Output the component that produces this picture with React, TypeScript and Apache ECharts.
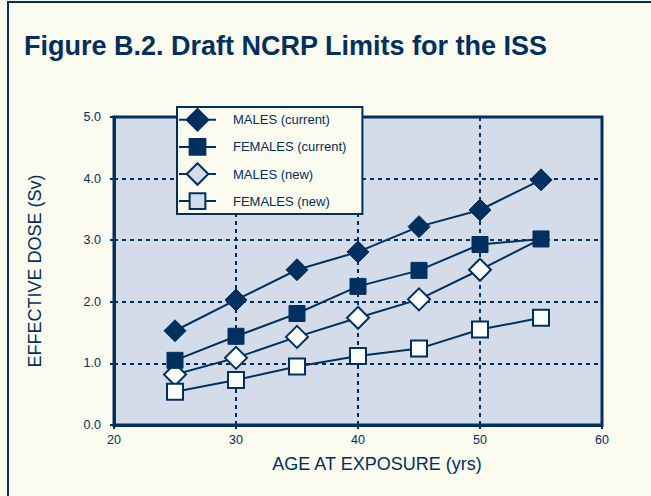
import React, { useEffect, useRef } from "react";
import * as echarts from "echarts";

const ages = [25, 30, 35, 40, 45, 50, 55];
const malesCurrent = [1.53, 2.03, 2.52, 2.81, 3.22, 3.49, 3.98];
const femalesCurrent = [1.05, 1.44, 1.81, 2.25, 2.51, 2.93, 3.02];
const malesNew = [0.82, 1.09, 1.43, 1.74, 2.04, 2.52, 3.02];
const femalesNew = [0.54, 0.73, 0.95, 1.12, 1.24, 1.55, 1.74];
const seriesNames = ["MALES (current)", "FEMALES (current)", "MALES (new)", "FEMALES (new)"];

const NAVY = "#00305f";
const PLOT_BG = "#d5dce9";
const PAGE_BG = "#fbfbf0";
const FONT = "'Liberation Sans', Arial, Helvetica, sans-serif";
const SQUARE = "path://M0,0M22,22M3,3L19,3L19,19L3,19Z";

function pairs(vals: number[], hideLast = false) {
  return ages.map((a, i) =>
    hideLast && i === ages.length - 1
      ? { value: [a, vals[i]], symbol: "none" }
      : { value: [a, vals[i]] }
  );
}

export default function App() {
  const ref = useRef<HTMLDivElement>(null);
  useEffect(() => {
    if (!ref.current) return;
    const chart = echarts.init(ref.current, null, { renderer: "svg" });
    const mk = (name: string, vals: number[], symbol: string, filled: boolean, hideLast = false) => ({
      name,
      type: "line",
      data: pairs(vals, hideLast),
      symbol,
      symbolSize: 22,
      showSymbol: true,
      lineStyle: { color: NAVY, width: 2 },
      itemStyle: {
        color: filled ? NAVY : "#ffffff",
        borderColor: NAVY,
        borderWidth: filled ? 1 : 2,
      },
      emphasis: { disabled: true },
    });
    chart.setOption({
      animation: false,
      backgroundColor: "transparent",
      textStyle: { fontFamily: FONT },
      title: {
        text: "Figure B.2. Draft NCRP Limits for the ISS",
        left: 24,
        top: 32,
        padding: 0,
        textStyle: { fontFamily: FONT, fontSize: 27, fontWeight: "bold", color: NAVY },
      },
      grid: {
        left: 114,
        right: 49,
        top: 117,
        bottom: 71,
        show: true,
        backgroundColor: PLOT_BG,
        borderColor: NAVY,
        borderWidth: 3,
      },
      legend: {
        orient: "vertical",
        left: 177,
        top: 107,
        itemWidth: 37,
        itemHeight: 27,
        itemGap: 3.5,
        padding: [1, 16, 1, 1],
        backgroundColor: PAGE_BG,
        borderColor: NAVY,
        borderWidth: 2,
        borderRadius: 0,
        z: 10,
        selectedMode: false,
        textStyle: { fontFamily: FONT, fontSize: 13, color: NAVY, padding: [0, 0, 0, 12] },
        data: [
          { name: seriesNames[0] },
          { name: seriesNames[1] },
          { name: seriesNames[2], itemStyle: { color: PLOT_BG } },
          { name: seriesNames[3], itemStyle: { color: PLOT_BG } },
        ],
      },
      xAxis: {
        type: "value",
        min: 20,
        max: 60,
        interval: 10,
        name: "AGE AT EXPOSURE (yrs)",
        nameLocation: "middle",
        nameGap: 30,
        nameTextStyle: { fontFamily: FONT, fontSize: 18, color: NAVY, padding: [0, 0, 0, 38] },
        axisLine: { show: true, lineStyle: { color: NAVY, width: 3 } },
        axisTick: { show: true, length: 4, lineStyle: { color: NAVY, width: 2 } },
        axisLabel: { fontFamily: FONT, fontSize: 12.5, color: NAVY, margin: 8 },
        splitLine: { show: true, lineStyle: { color: NAVY, width: 2, type: [4, 4] } },
      },
      yAxis: {
        type: "value",
        min: 0,
        max: 5,
        interval: 1,
        name: "EFFECTIVE DOSE (Sv)",
        nameLocation: "middle",
        nameGap: 70,
        nameRotate: 90,
        nameTextStyle: { fontFamily: FONT, fontSize: 18, color: NAVY },
        axisLine: { show: true, lineStyle: { color: NAVY, width: 3 } },
        axisTick: { show: true, length: 4, lineStyle: { color: NAVY, width: 2 } },
        axisLabel: {
          fontFamily: FONT,
          fontSize: 12.5,
          color: NAVY,
          margin: 13,
          formatter: (v: number) => v.toFixed(1),
        },
        splitLine: { show: true, lineStyle: { color: NAVY, width: 2, type: [4, 4] } },
      },
      series: [
        mk(seriesNames[0], malesCurrent, "diamond", true),
        mk(seriesNames[2], malesNew, "diamond", false, true),
        mk(seriesNames[3], femalesNew, SQUARE, false),
        mk(seriesNames[1], femalesCurrent, SQUARE, true),
      ],
    });
    return () => chart.dispose();
  }, []);

  return (
    <div
      style={{
        position: "absolute",
        left: 0,
        top: 0,
        width: 651,
        height: 496,
        background: PAGE_BG,
        overflow: "hidden",
      }}
    >
      <div
        style={{
          position: "absolute",
          left: 7,
          top: 1,
          right: 0,
          bottom: 0,
          borderLeft: `2px solid ${NAVY}`,
          borderTop: `2px solid ${NAVY}`,
        }}
      />
      <div ref={ref} style={{ position: "absolute", left: 0, top: 0, width: 651, height: 496 }} />
    </div>
  );
}
